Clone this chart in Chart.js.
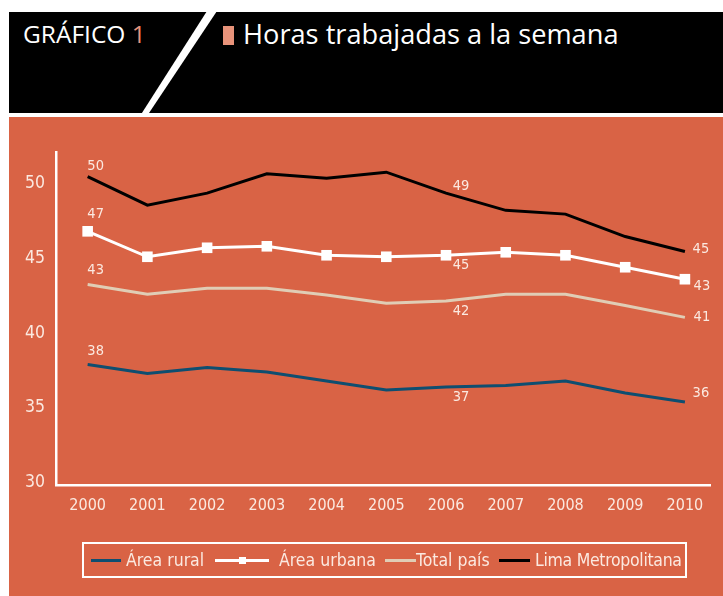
<!DOCTYPE html>
<html>
<head>
<meta charset="utf-8">
<script src="https://cdn.jsdelivr.net/npm/chart.js@4.4.0/dist/chart.umd.min.js"></script>
<style>
  body { margin: 0; background: #fff; }
  #page { position: relative; width: 723px; height: 596px; overflow: hidden; }
  #head { position: absolute; left: 9px; top: 12px; width: 714px; height: 101px; background: #000; }
  #kicker { position: absolute; left: 23px; top: 22px; font: 24.5px "Open Sans", sans-serif; line-height: 1; color: #fff; white-space: nowrap; }
  #kicker span { color: #e8937a; }
  #mark { position: absolute; left: 223px; top: 26px; width: 11px; height: 19px; background: #e8937a; }
  #title { position: absolute; left: 243px; top: 20px; font: 27.2px "Open Sans", sans-serif; line-height: 1; color: #fff; white-space: nowrap; }
  #slash { position: absolute; left: 0; top: 0; }
  #panel { position: absolute; left: 9px; top: 117px; width: 714px; height: 479px; background: #d96345; }
  #chart { position: absolute; left: 0; top: 117px; }
  #legend { position: absolute; left: 82px; top: 542px; width: 605px; height: 36px; box-sizing: border-box; border: 2px solid #fff; }
  .swatch { position: absolute; top: 14.5px; height: 3px; }
  .sq { position: absolute; top: -2px; width: 7px; height: 7px; background: #fff; }
  .txt { position: absolute; top: 7.5px; font: 17.5px "DejaVu Sans Condensed", "Liberation Sans Narrow", sans-serif; line-height: 1; color: #fbe9e0; white-space: nowrap; }
</style>
</head>
<body>
<div id="page">
  <div id="head"></div>
  <div id="kicker">GRÁFICO <span>1</span></div>
  <div id="mark"></div>
  <div id="title">Horas trabajadas a la semana</div>
  <svg id="slash" width="723" height="120"><polygon points="207,11 217,11 147,116 140,116" fill="#fff"/></svg>
  <div id="panel"></div>
  <canvas id="chart" width="723" height="479"></canvas>
  <div id="legend"></div>
</div>
<script>
// data
const years = [2000, 2001, 2002, 2003, 2004, 2005, 2006, 2007, 2008, 2009, 2010];
const yTicks = [30, 35, 40, 45, 50];

const seriesNames = ['Área rural', 'Área urbana', 'Total país', 'Lima Metropolitana'];
const rural  = [37.9, 37.3, 37.7, 37.4, 36.8, 36.2, 36.4, 36.5, 36.8, 36.0, 35.4];
const urbana = [46.8, 45.1, 45.7, 45.8, 45.2, 45.1, 45.2, 45.4, 45.2, 44.4, 43.6];
const total  = [43.25, 42.6, 43.0, 43.0, 42.55, 42.0, 42.15, 42.6, 42.6, 41.85, 41.05];
const lima   = [50.45, 48.55, 49.35, 50.65, 50.35, 50.75, 49.35, 48.2, 47.95, 46.45, 45.45];

// value tags printed next to some points
const ruralTags  = ['38', '', '', '', '', '', '37', '', '', '', '36'];
const urbanaTags = ['47', '', '', '', '', '', '45', '', '', '', '43'];
const totalTags  = ['43', '', '', '', '', '', '42', '', '', '', '41'];
const limaTags   = ['50', '', '', '', '', '', '49', '', '', '', '45'];

const colors = ['#0e4e70', '#ffffff', '#e0cdb5', '#000000'];
const FONT = '"DejaVu Sans Condensed", "Liberation Sans Narrow", sans-serif';

// where each tag sits relative to its point
const tagOffsets = [
  { 0: [8, -13], 6: [15, 10], 10: [16, -9] },
  { 0: [8, -17], 6: [15, 10], 10: [17, 7] },
  { 0: [8, -14], 6: [15, 10], 10: [17, 0] },
  { 0: [8, -10], 6: [15, -7], 10: [16, -2] }
];

const valueTags = {
  id: 'valueTags',
  afterDatasetsDraw(chart) {
    const ctx = chart.ctx;
    ctx.save();
    ctx.font = '14.5px ' + FONT;
    ctx.fillStyle = '#fbe9e0';
    ctx.textAlign = 'center';
    ctx.textBaseline = 'middle';
    chart.data.datasets.forEach((ds, i) => {
      const meta = chart.getDatasetMeta(i);
      ds.tags.forEach((t, j) => {
        if (!t) return;
        const off = tagOffsets[i][j] || [0, -10];
        const p = meta.data[j];
        ctx.fillText(t, p.x + off[0], p.y + off[1]);
      });
    });
    ctx.restore();
  }
};

const allValues = [rural, urbana, total, lima];
const allTags = [ruralTags, urbanaTags, totalTags, limaTags];

const datasets = seriesNames.map((name, i) => ({
  label: name,
  data: years.map((yr, j) => ({ x: yr, y: allValues[i][j] })),
  tags: allTags[i],
  borderColor: colors[i],
  backgroundColor: colors[i],
  borderWidth: 3,
  tension: 0,
  pointStyle: 'rect',
  pointRadius: i === 1 ? 7.5 : 0,
  pointBorderWidth: 0,
  pointHoverRadius: i === 1 ? 7.5 : 0
}));

new Chart(document.getElementById('chart'), {
  type: 'line',
  data: { datasets },
  plugins: [valueTags],
  options: {
    responsive: false,
    animation: false,
    events: [],
    layout: { padding: { top: 35, right: 13, left: 0, bottom: 0 } },
    plugins: { legend: { display: false }, tooltip: { enabled: false } },
    scales: {
      x: {
        type: 'linear',
        min: 1999.47,
        max: 2010.42,
        afterBuildTicks: s => { s.ticks = years.map(v => ({ value: v })); },
        afterFit: s => { s.height = 111; },
        grid: { display: false, drawTicks: false },
        border: { color: '#fff', width: 2.5 },
        ticks: {
          color: '#fbe9e0',
          padding: 11,
          font: { family: FONT, size: 16 },
          callback: v => String(v)
        }
      },
      y: {
        min: 29.85,
        max: 52.1,
        afterBuildTicks: s => { s.ticks = yTicks.map(v => ({ value: v })); },
        afterFit: s => { s.width = 56; },
        grid: { display: false, drawTicks: false },
        border: { color: '#fff', width: 2.5 },
        ticks: {
          color: '#fbe9e0',
          padding: 11,
          font: { family: FONT, size: 17.5 }
        }
      }
    }
  }
});

// legend box under the plot
const legendSpots = [
  { line: 6.5, w: 30, text: 42 },
  { line: 131, w: 54, text: 195 },
  { line: 301, w: 31, text: 332 },
  { line: 414.5, w: 31, text: 451, squeeze: -0.3 }
];
const legend = document.getElementById('legend');
seriesNames.forEach((name, i) => {
  const s = legendSpots[i];
  const sw = document.createElement('div');
  sw.className = 'swatch';
  sw.style.left = s.line + 'px';
  sw.style.width = s.w + 'px';
  sw.style.background = colors[i];
  if (i === 1) {
    const sq = document.createElement('div');
    sq.className = 'sq';
    sq.style.left = (s.w / 2 - 3.5) + 'px';
    sw.appendChild(sq);
  }
  legend.appendChild(sw);
  const tx = document.createElement('div');
  tx.className = 'txt';
  tx.style.left = s.text + 'px';
  if (s.squeeze) tx.style.letterSpacing = s.squeeze + 'px';
  tx.textContent = name;
  legend.appendChild(tx);
});
</script>
</body>
</html>
